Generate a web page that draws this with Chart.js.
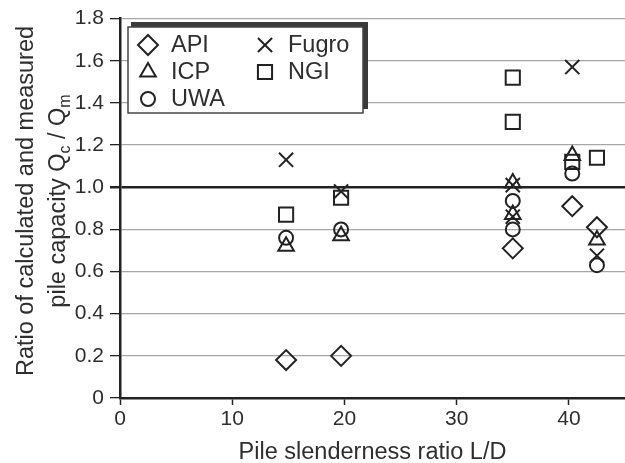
<!DOCTYPE html>
<html lang="en">
<head>
  <meta charset="UTF-8">
  <title>Calculated vs measured pile capacity</title>
  <script src="https://cdn.jsdelivr.net/npm/chart.js"></script>
  <style>
    body { margin: 0; background: #fff; }
    #grafico { display: block; }
  </style>
</head>
<body>
  <canvas id="grafico" width="625" height="463"></canvas>

  <script>
    // values (L/D, Qc/Qm)
    const apiX   = [14.8, 19.7, 35.0, 40.3, 42.5];
    const apiY   = [0.18, 0.20, 0.71, 0.91, 0.81];
    const icpX   = [14.8, 19.7, 35.0, 35.0, 40.3, 42.5];
    const icpY   = [0.72, 0.77, 1.02, 0.87, 1.15, 0.75];
    const uwaX   = [14.8, 19.7, 35.0, 35.0, 40.3, 42.5];
    const uwaY   = [0.76, 0.80, 0.935, 0.80, 1.065, 0.63];
    const fugroX = [14.8, 19.7, 35.0, 35.0, 40.3, 42.5];
    const fugroY = [1.13, 0.98, 1.01, 0.86, 1.57, 0.675];
    const ngiX   = [14.8, 19.7, 35.0, 35.0, 40.3, 42.5];
    const ngiY   = [0.87, 0.95, 1.52, 1.31, 1.12, 1.14];

    const xTicks = [0, 10, 20, 30, 40];
    const yTicks = [0, 0.2, 0.4, 0.6, 0.8, 1.0, 1.2, 1.4, 1.6, 1.8];

    const INK = '#222';
    const TXT = '#2e2e2e';
    const FONT = 'Liberation Sans, Arial, sans-serif';

    function puntos(xs, ys) {
      return xs.map((x, i) => ({ x: x, y: ys[i] }));
    }

    function serie(label, xs, ys, style, radius) {
      return {
        label: label,
        data: puntos(xs, ys),
        pointStyle: style,
        pointRadius: radius,
        pointBorderWidth: 2,
        pointBorderColor: INK,
        pointBackgroundColor: 'rgba(0,0,0,0)',
        showLine: false
      };
    }

    const datos = {
      datasets: [
        serie('API', apiX, apiY, 'rectRot', 10),
        serie('ICP', icpX, icpY, 'triangle', 9),
        serie('UWA', uwaX, uwaY, 'circle', 7),
        serie('Fugro', fugroX, fugroY, 'crossRot', 10),
        serie('NGI', ngiX, ngiY, 'rect', 10)
      ]
    };

    const esUno = v => Math.abs(v - 1) < 1e-6;
    const esCero = v => Math.abs(v) < 1e-6;

    // legend box + axis titles (the y title has subscripts)
    const decoracion = {
      id: 'decoracion',
      afterDraw(chart) {
        const c = chart.ctx;
        const area = chart.chartArea;
        c.save();

        // legend with offset shadow
        c.fillStyle = '#3a3a3a';
        c.fillRect(131, 22, 237, 87);
        c.fillStyle = '#fff';
        c.fillRect(128, 27, 235, 86);
        c.strokeStyle = '#444';
        c.lineWidth = 1.5;
        c.strokeRect(128, 27, 235, 86);

        const pos = [[148, 45], [148, 72], [148, 99], [265, 45], [265, 72]];
        c.font = '23.5px ' + FONT;
        c.textBaseline = 'middle';
        c.textAlign = 'left';
        chart.data.datasets.forEach((ds, i) => {
          const p = pos[i];
          c.fillStyle = 'rgba(0,0,0,0)';
          c.strokeStyle = INK;
          c.lineWidth = 2;
          Chart.helpers.drawPoint(c, {
            pointStyle: ds.pointStyle, radius: ds.pointRadius,
            borderWidth: 2, rotation: 0
          }, p[0], p[1]);
          c.fillStyle = TXT;
          c.fillText(ds.label, p[0] + 23, p[1] + 1);
        });

        // x title
        c.fillStyle = TXT;
        c.textAlign = 'center';
        c.textBaseline = 'alphabetic';
        c.font = '23.5px ' + FONT;
        c.fillText('Pile slenderness ratio L/D', (area.left + area.right) / 2, 459);

        // y title, two lines, rotated
        const cy = 201;
        c.save();
        c.translate(33, cy);
        c.rotate(-Math.PI / 2);
        c.textAlign = 'center';
        c.fillText('Ratio of calculated and measured', 0, 0);
        c.restore();

        const partes = [
          ['pile capacity Q', false], ['c', true], [' / Q', false], ['m', true]
        ];
        const big = '23.5px ' + FONT, small = '16px ' + FONT;
        let total = 0;
        partes.forEach(p => { c.font = p[1] ? small : big; total += c.measureText(p[0]).width; });
        c.save();
        c.translate(65, cy);
        c.rotate(-Math.PI / 2);
        c.textAlign = 'left';
        let x = -total / 2;
        partes.forEach(p => {
          c.font = p[1] ? small : big;
          c.fillText(p[0], x, p[1] ? 5 : 0);
          x += c.measureText(p[0]).width;
        });
        c.restore();

        c.restore();
      }
    };

    const opciones = {
      responsive: false,
      animation: false,
      events: [],
      devicePixelRatio: 1,
      layout: { autoPadding: false, padding: { top: 16, right: 0, left: 0, bottom: 0 } },
      plugins: {
        legend: { display: false },
        tooltip: { enabled: false }
      },
      scales: {
        x: {
          type: 'linear',
          min: 0,
          max: 45,
          afterFit: s => { s.height = 65; s.paddingRight = 0; s.paddingLeft = 0; },
          afterBuildTicks: s => { s.ticks = xTicks.map(v => ({ value: v })); },
          ticks: {
            includeBounds: false,
            maxRotation: 0,
            padding: 2,
            color: TXT,
            font: { family: FONT, size: 21 }
          },
          grid: {
            drawOnChartArea: false,
            tickLength: 7,
            tickColor: INK,
            tickWidth: 1.5
          },
          border: { color: INK, width: 2.5 }
        },
        y: {
          min: 0,
          max: 1.8,
          afterFit: s => { s.width = 120; },
          afterBuildTicks: s => { s.ticks = yTicks.map(v => ({ value: v })); },
          ticks: {
            padding: 6,
            color: TXT,
            font: { family: FONT, size: 21 },
            callback: v => esCero(v) ? '0' : v.toFixed(1)
          },
          grid: {
            color: ctx => (esUno(ctx.tick.value) || esCero(ctx.tick.value)) ? INK : '#a6a6a6',
            lineWidth: ctx => esUno(ctx.tick.value) ? 2.5 : 1.3,
            tickLength: 10,
            tickColor: INK,
            tickWidth: ctx => esUno(ctx.tick.value) ? 2.5 : 1.3
          },
          border: { color: INK, width: 2.5 }
        }
      }
    };

    const chart = new Chart(document.getElementById('grafico').getContext('2d'), {
      type: 'scatter',
      data: datos,
      options: opciones,
      plugins: [decoracion]
    });
  </script>
</body>
</html>
